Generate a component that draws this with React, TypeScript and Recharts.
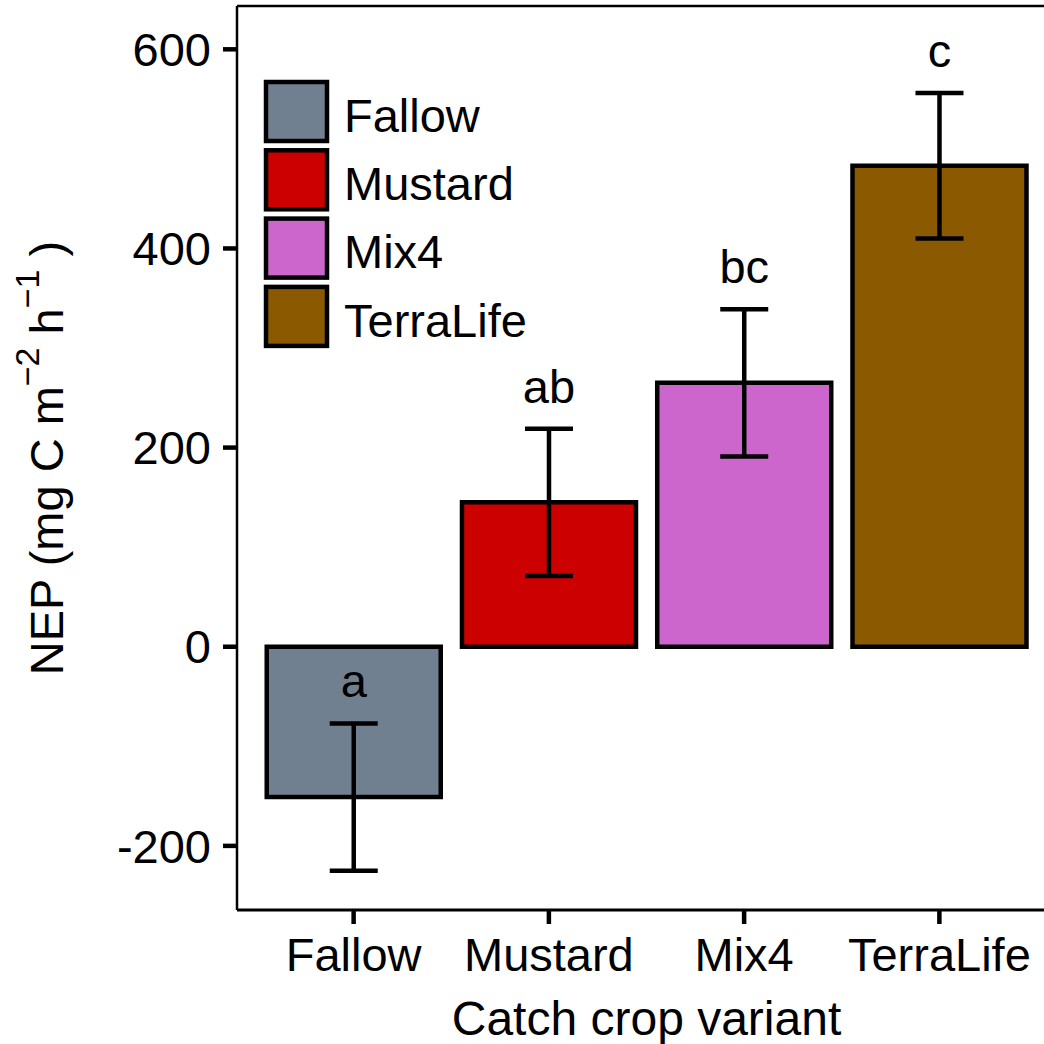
import React from 'react';
import {
  BarChart,
  Bar,
  XAxis,
  YAxis,
  Cell,
  ErrorBar,
  LabelList,
  Legend,
  ReferenceLine,
} from 'recharts';

const variants = ['Fallow', 'Mustard', 'Mix4', 'TerraLife'];
const nep = [-151, 145, 265, 483];
const nepSe = [74, 74, 74, 73];
const letters = ['a', 'ab', 'bc', 'c'];
const fills = ['#708090', '#CD0000', '#CC66CC', '#8B5A00'];
const yTicks = [-200, 0, 200, 400, 600];
const yDomain: [number, number] = [-264.4, 643.5];

const FONT = '"Liberation Sans", Arial, Helvetica, sans-serif';

const data = variants.map((name, i) => ({
  name,
  nep: nep[i],
  se: nepSe[i],
  letter: letters[i],
}));

function LetterLabel(props: any) {
  const { index } = props;
  const vb = props.viewBox ?? {};
  const x = vb.x ?? props.x;
  const y = vb.y ?? props.y;
  const width = vb.width ?? props.width;
  const height = vb.height ?? props.height;
  const v = nep[index];
  const top = Math.min(y, y + height);
  const bottom = Math.max(y, y + height);
  const k = (bottom - top) / Math.abs(v);
  const zeroY = v >= 0 ? bottom : top;
  const capY = zeroY - (v + nepSe[index]) * k;
  return (
    <text
      x={x + width / 2}
      y={capY - 26}
      textAnchor="middle"
      fontSize={47}
      fontFamily={FONT}
      fill="#000"
    >
      {letters[index]}
    </text>
  );
}

function LegendBox() {
  return (
    <svg width={320} height={280} style={{ display: 'block' }}>
      {variants.map((name, i) => (
        <g key={name} transform={`translate(0, ${i * 68.3})`}>
          <rect x={4} y={4} width={61} height={59} fill={fills[i]} stroke="#000" strokeWidth={4.5} />
          <text x={82} y={53.7} fontSize={47} fontFamily={FONT} fill="#000">
            {name}
          </text>
        </g>
      ))}
    </svg>
  );
}

function YTitle(props: any) {
  const vb = props.viewBox ?? { x: 0, y: 6, width: 237, height: 904 };
  const cx = vb.x + 63;
  const cy = vb.y + vb.height / 2;
  return (
    <text
      x={cx}
      y={cy}
      transform={`rotate(-90, ${cx}, ${cy})`}
      textAnchor="middle"
      fontSize={47}
      fontFamily={FONT}
      fill="#000"
    >
      <tspan>NEP (mg C m</tspan>
      <tspan fontSize={34} dy={-24}>−2</tspan>
      <tspan dy={24}> h</tspan>
      <tspan fontSize={34} dy={-24}>−1</tspan>
      <tspan dy={24}> )</tspan>
    </text>
  );
}

function XTitle(props: any) {
  const vb = props.viewBox ?? { x: 237, y: 910, width: 819, height: 134 };
  return (
    <text
      x={vb.x + vb.width / 2}
      y={vb.y + 124.5}
      textAnchor="middle"
      fontSize={48}
      fontFamily={FONT}
      fill="#000"
    >
      Catch crop variant
    </text>
  );
}

export default function App() {
  return (
    <div
      style={{
        position: 'absolute',
        left: 0,
        top: 0,
        width: 1044,
        height: 1044,
        overflow: 'hidden',
        background: '#fff',
      }}
    >
      <BarChart
        width={1070}
        height={1044}
        data={data}
        margin={{ top: 6, right: 14, bottom: 0, left: 0 }}
        barCategoryGap="5.5%"
      >
        <XAxis
          dataKey="name"
          height={134}
          padding={{ left: 19, right: 19 }}
          tickSize={14}
          tickMargin={14}
          axisLine={{ stroke: '#000', strokeWidth: 3 }}
          tickLine={{ stroke: '#000', strokeWidth: 4.5 }}
          tick={{ fill: '#000', fontSize: 47, fontFamily: FONT }}
          interval={0}
          label={<XTitle />}
        />
        <YAxis
          width={237}
          domain={yDomain}
          ticks={yTicks}
          interval={0}
          allowDataOverflow
          tickSize={14}
          tickMargin={12}
          axisLine={{ stroke: '#000', strokeWidth: 2.5 }}
          tickLine={{ stroke: '#000', strokeWidth: 4.5 }}
          tick={{ fill: '#000', fontSize: 47, fontFamily: FONT }}
          label={<YTitle />}
        />
        <ReferenceLine y={yDomain[1]} stroke="#000" strokeWidth={2.5} ifOverflow="visible" />
        <Legend
          layout="vertical"
          align="center"
          verticalAlign="middle"
          content={() => <LegendBox />}
          wrapperStyle={{ left: 262, top: 78, width: 320, height: 280 }}
        />
        <Bar dataKey="nep" stroke="#000" strokeWidth={4.5} isAnimationActive={false}>
          {data.map((d, i) => (
            <Cell key={d.name} fill={fills[i]} />
          ))}
          <ErrorBar dataKey="se" width={24} stroke="#000" strokeWidth={4.5} direction="y" />
          <LabelList dataKey="letter" content={<LetterLabel />} />
        </Bar>
      </BarChart>
    </div>
  );
}
